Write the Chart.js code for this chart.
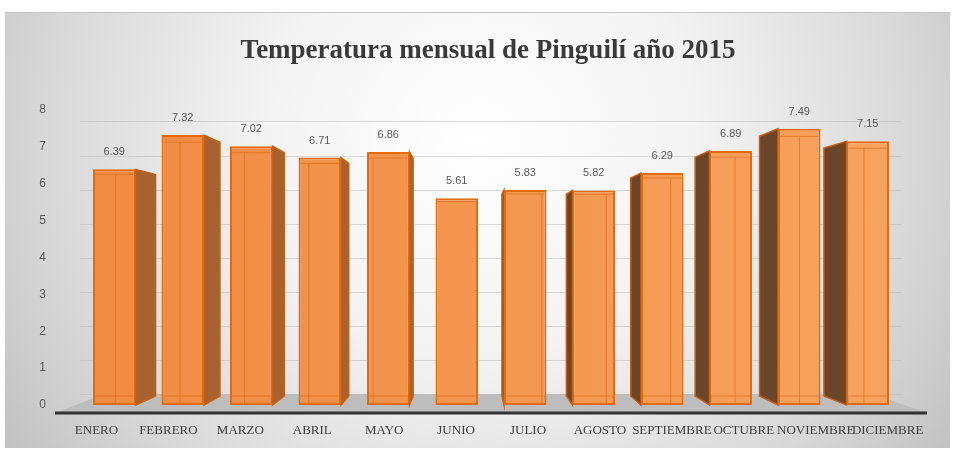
<!DOCTYPE html>
<html>
<head>
<meta charset="utf-8">
<script src="https://cdn.jsdelivr.net/npm/chart.js@4/dist/chart.umd.min.js"></script>
<style>
  html, body { margin: 0; padding: 0; background: #fff; }
  canvas { display: block; }
</style>
</head>
<body>
<canvas id="tempChart" width="957" height="452"></canvas>
<script>
// datos
const meses = ['ENERO', 'FEBRERO', 'MARZO', 'ABRIL', 'MAYO', 'JUNIO', 'JULIO', 'AGOSTO', 'SEPTIEMBRE', 'OCTUBRE', 'NOVIEMBRE', 'DICIEMBRE'];
const temperaturas = [6.39, 7.32, 7.02, 6.71, 6.86, 5.61, 5.83, 5.82, 6.29, 6.89, 7.49, 7.15];
const yMin = 0;
const yMax = 8;

// punto de fuga para el efecto 3D
const VX = 470, VY = 255, DEPTH = 0.94;
function proj(x, y, f) {
    return [VX + f * (x - VX), VY + f * (y - VY)];
}

// fondo con degradado
const fondoPlugin = {
    id: 'fondo',
    beforeDraw(chart) {
        const ctx = chart.ctx;
        ctx.save();
        const g = ctx.createRadialGradient(480, 140, 0, 480, 140, 620);
        g.addColorStop(0, '#ffffff');
        g.addColorStop(0.35, '#f3f3f3');
        g.addColorStop(0.7, '#d8d8d8');
        g.addColorStop(1, '#b8b8b8');
        ctx.fillStyle = g;
        ctx.fillRect(5, 12, 945, 436);
        ctx.strokeStyle = '#c4c4c4';
        ctx.lineWidth = 1;
        ctx.beginPath();
        ctx.moveTo(5, 12.5);
        ctx.lineTo(950, 12.5);
        ctx.stroke();
        ctx.restore();
    }
};

// piso, caras laterales, etiquetas
const barras3D = {
    id: 'barras3D',
    beforeDatasetsDraw(chart) {
        const ctx = chart.ctx;
        const meta = chart.getDatasetMeta(0);
        ctx.save();
        // piso
        const fl = [55, 413], fr = [927, 413];
        const bl = proj(55, 413, 0.88), br = proj(927, 413, 0.88);
        ctx.fillStyle = '#bdbdbd';
        ctx.beginPath();
        ctx.moveTo(fl[0], fl[1]);
        ctx.lineTo(bl[0], bl[1]);
        ctx.lineTo(br[0], br[1]);
        ctx.lineTo(fr[0], fr[1]);
        ctx.closePath();
        ctx.fill();
        // caras laterales
        meta.data.forEach(function(bar) {
            const x0 = bar.x - bar.width / 2;
            const x1 = bar.x + bar.width / 2;
            let xe, color;
            if (x1 < VX) { xe = x1; color = '#a9622f'; }
            else if (x0 > VX) { xe = x0; color = '#6b4628'; }
            else return;
            const t = proj(xe, bar.y, DEPTH);
            const b = proj(xe, bar.base, DEPTH);
            ctx.fillStyle = color;
            ctx.strokeStyle = '#c65f14';
            ctx.lineWidth = 1.5;
            ctx.beginPath();
            ctx.moveTo(xe, bar.y);
            ctx.lineTo(t[0], t[1]);
            ctx.lineTo(b[0], b[1]);
            ctx.lineTo(xe, bar.base);
            ctx.closePath();
            ctx.fill();
            ctx.stroke();
        });
        ctx.restore();
    },
    afterDatasetsDraw(chart) {
        const ctx = chart.ctx;
        const meta = chart.getDatasetMeta(0);
        ctx.save();
        meta.data.forEach(function(bar, i) {
            const x0 = bar.x - bar.width / 2;
            const x1 = bar.x + bar.width / 2;
            // aristas traseras vistas por transparencia
            ctx.strokeStyle = 'rgba(214,100,20,0.55)';
            ctx.lineWidth = 1;
            const bt = proj(x0, bar.y, DEPTH)[1];
            const bb = proj(x0, bar.base, DEPTH)[1];
            const xl = Math.max(x0, proj(x0, 0, DEPTH)[0]);
            const xr = Math.min(x1, proj(x1, 0, DEPTH)[0]);
            ctx.beginPath();
            if (x1 < VX) { ctx.moveTo(xl, bt); ctx.lineTo(xl, bar.base); }
            else if (x0 > VX) { ctx.moveTo(xr, bt); ctx.lineTo(xr, bar.base); }
            ctx.moveTo(x0 + 2, bt); ctx.lineTo(x1 - 2, bt);
            ctx.moveTo(x0 + 2, bb); ctx.lineTo(x1 - 2, bb);
            ctx.stroke();
            // valor
            ctx.fillStyle = '#595959';
            ctx.font = '11px "Liberation Sans"';
            ctx.textAlign = 'center';
            ctx.textBaseline = 'middle';
            ctx.fillText(temperaturas[i].toFixed(2), bar.x, bar.y - 17);
            // etiqueta de categoría
            ctx.fillStyle = '#404040';
            ctx.font = '13px "Liberation Serif"';
            ctx.fillText(meses[i], VX + 1.05 * (bar.x - VX), 431);
        });
        // eje horizontal
        ctx.strokeStyle = '#333333';
        ctx.lineWidth = 3;
        ctx.beginPath();
        ctx.moveTo(55, 413);
        ctx.lineTo(927, 413);
        ctx.stroke();
        ctx.restore();
    }
};

const ctx = document.getElementById('tempChart').getContext('2d');
const tempChart = new Chart(ctx, {
    type: 'bar',
    data: {
        labels: meses,
        datasets: [{
            data: temperaturas,
            backgroundColor: function(context) {
                const area = context.chart.chartArea;
                if (!area) return '#f39148';
                const g = context.chart.ctx.createLinearGradient(area.left, 0, area.right, 0);
                g.addColorStop(0, '#f08a40');
                g.addColorStop(1, '#f8a35e');
                return g;
            },
            borderColor: '#e36c0a',
            borderWidth: 2,
            borderSkipped: false,
            barPercentage: 0.62,
            categoryPercentage: 1
        }]
    },
    options: {
        responsive: false,
        animation: false,
        layout: {
            padding: { left: 19, right: 0, top: 0, bottom: 0 }
        },
        plugins: {
            legend: { display: false },
            tooltip: { enabled: false },
            title: {
                display: true,
                text: 'Temperatura mensual de Pinguilí año 2015',
                color: '#3a3a3a',
                font: { family: '"Liberation Serif"', size: 27, weight: 'bold' },
                padding: { top: 35, bottom: 42.6 }
            }
        },
        scales: {
            x: {
                grid: { display: false },
                border: { display: false },
                ticks: { display: false },
                afterFit: function(scale) { scale.height = 47; }
            },
            y: {
                min: yMin,
                max: yMax,
                position: 'left',
                grid: { display: false, drawTicks: false },
                border: { display: false },
                ticks: {
                    stepSize: 1,
                    padding: 34,
                    color: '#595959',
                    font: { family: '"Liberation Sans"', size: 12 }
                },
                afterFit: function(scale) { scale.width = 61; }
            },
            y2: {
                min: -0.3,
                max: 8.35,
                position: 'right',
                grid: { color: 'rgba(190,190,190,0.55)', drawTicks: false },
                border: { display: false },
                ticks: { display: false, stepSize: 1, includeBounds: false },
                afterFit: function(scale) { scale.width = 55; }
            }
        }
    },
    plugins: [fondoPlugin, barras3D]
});
</script>
</body>
</html>
